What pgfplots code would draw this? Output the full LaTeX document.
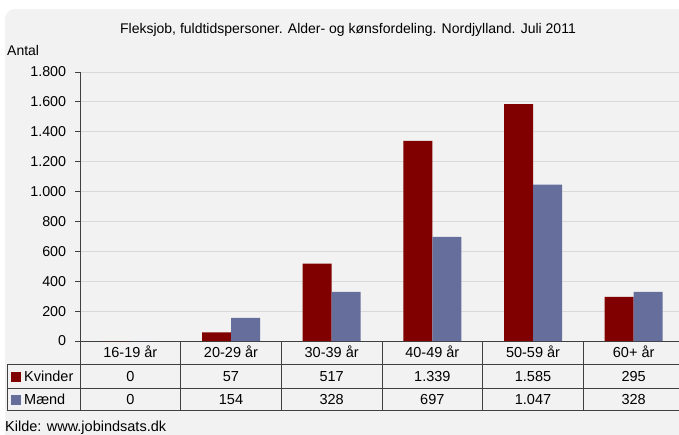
\documentclass[border=0pt]{standalone}
\usepackage{fontspec}
\setmainfont{Liberation Sans}
\usepackage{pgfplots}
\pgfplotsset{compat=1.18}
\definecolor{kv}{HTML}{800000}
\definecolor{mn}{HTML}{666E9C}
\definecolor{bg}{HTML}{F1F2F1}
\definecolor{gridc}{HTML}{D9D9D9}
\definecolor{tline}{HTML}{404040}
\begin{document}
\fontsize{14}{16}\selectfont
\begin{tikzpicture}[x=1pt,y=1pt]
\fill[bg, rounded corners=10pt] (5,-9) rectangle (700,-460);
\node[anchor=base, inner sep=0] at (348,-33) {Fleksjob, fuldtidspersoner. Alder- og kønsfordeling. Nordjylland. Juli 2011};
\node[anchor=base west, inner sep=0] at (7,-55) {Antal};
\begin{axis}[
  at={(80pt,-341pt)}, anchor=south west,
  scale only axis, width=604pt, height=269pt,
  xmin=-0.5, xmax=5.5, ymin=0, ymax=1800,
  ytick={0,200,...,1800},
  xtick=\empty,
  axis lines*=left,
  axis line style={tline, line width=0.8pt},
  ymajorgrids=true,
  major grid style={gridc, line width=0.9pt},
  tick align=outside, ytick pos=left,
  major tick length=5pt,
  tick style={tline, line width=0.8pt},
  tick label style={font=\fontsize{14.3}{16}\selectfont},
  yticklabel style={xshift=-4pt},
  /pgf/number format/.cd, 1000 sep={.}, assume math mode=true,
]
\addplot[ybar, bar width=29pt, bar shift=-14.5pt, fill=kv, draw=none]
  coordinates {(0,0) (1,57) (2,517) (3,1339) (4,1585) (5,295)};
\addplot[ybar, bar width=29pt, bar shift=14.5pt, fill=mn, draw=none]
  coordinates {(0,0) (1,154) (2,328) (3,697) (4,1047) (5,328)};
\end{axis}
% data table
\fontsize{14.5}{16}\selectfont
\draw[tline, line width=0.9pt] (7,-364) -- (690,-364) (7,-388) -- (690,-388) (7,-410) -- (690,-410);
\draw[tline, line width=0.9pt] (7,-364) -- (7,-410) (80,-336) -- (80,-410);
\foreach \k in {1,...,5} {\draw[tline, line width=0.9pt] ({80+100.667*\k},-341) -- ({80+100.667*\k},-410);}
\foreach \lab [count=\i from 0] in {16-19 år,20-29 år,30-39 år,40-49 år,50-59 år,60+ år}
  {\node[anchor=base, inner sep=0] at ({130.33+100.667*\i},-357.5) {\lab};}
\foreach \v [count=\i from 0] in {0,57,517,1.339,1.585,295}
  {\node[anchor=base, inner sep=0] at ({130.33+100.667*\i},-381) {\v};}
\foreach \v [count=\i from 0] in {0,154,328,697,1.047,328}
  {\node[anchor=base, inner sep=0] at ({130.33+100.667*\i},-404) {\v};}
\fill[kv] (11,-372) rectangle (21,-382);
\fill[mn] (11,-395) rectangle (21,-405);
\node[anchor=base west, inner sep=0] at (24,-381) {Kvinder};
\node[anchor=base west, inner sep=0] at (24,-404) {Mænd};
\node[anchor=base west, inner sep=0] at (5,-431) {Kilde: www.jobindsats.dk};
\pgfresetboundingbox
\useasboundingbox (0,0) rectangle (679,-434);
\end{tikzpicture}
\end{document}
